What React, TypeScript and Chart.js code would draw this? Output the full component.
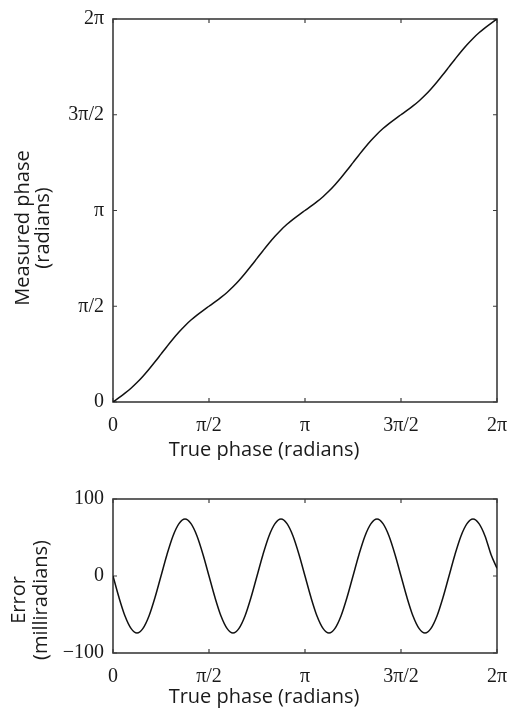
import React, { useEffect, useRef } from "react";
import { Chart, registerables } from "chart.js";

Chart.register(...registerables);

// True phase samples (radians), every π/32
const truePhase = [
  0, 0.0982, 0.1963, 0.2945, 0.3927, 0.4909, 0.589, 0.6872,
  0.7854, 0.8836, 0.9817, 1.0799, 1.1781, 1.2763, 1.3744, 1.4726,
  1.5708, 1.669, 1.7671, 1.8653, 1.9635, 2.0617, 2.1598, 2.258,
  2.3562, 2.4544, 2.5525, 2.6507, 2.7489, 2.8471, 2.9452, 3.0434,
  3.1416, 3.2398, 3.3379, 3.4361, 3.5343, 3.6325, 3.7306, 3.8288,
  3.927, 4.0252, 4.1233, 4.2215, 4.3197, 4.4179, 4.516, 4.6142,
  4.7124, 4.8106, 4.9087, 5.0069, 5.1051, 5.2033, 5.3014, 5.3996,
  5.4978, 5.596, 5.6941, 5.7923, 5.8905, 5.9887, 6.0868, 6.185,
  6.2832,
];

// Measured phase (radians)
const measuredPhase = [
  0, 0.0702, 0.1443, 0.2265, 0.3187, 0.4229, 0.537, 0.6592,
  0.7854, 0.9116, 1.0337, 1.1479, 1.2521, 1.3443, 1.4264, 1.5006,
  1.5708, 1.641, 1.7151, 1.7973, 1.8895, 1.9937, 2.1078, 2.23,
  2.3562, 2.4824, 2.6045, 2.7187, 2.8229, 2.9151, 2.9972, 3.0714,
  3.1416, 3.2118, 3.2859, 3.3681, 3.4603, 3.5645, 3.6786, 3.8008,
  3.927, 4.0532, 4.1753, 4.2895, 4.3937, 4.4859, 4.568, 4.6422,
  4.7124, 4.7826, 4.8567, 4.9389, 5.0311, 5.1353, 5.2494, 5.3716,
  5.4978, 5.624, 5.7461, 5.8603, 5.9645, 6.0567, 6.1388, 6.213,
  6.2832,
];

// Error (milliradians)
const errorMrad = [
  0, -28, -52, -68, -74, -68, -52, -28, 0, 28, 52, 68, 74, 68, 52, 28,
  0, -28, -52, -68, -74, -68, -52, -28, 0, 28, 52, 68, 74, 68, 52, 28,
  0, -28, -52, -68, -74, -68, -52, -28, 0, 28, 52, 68, 74, 68, 52, 28,
  0, -28, -52, -68, -74, -68, -52, -28, 0, 28, 52, 68, 74, 68, 52, 28,
  10,
];

const phaseTickValues = [0, Math.PI / 2, Math.PI, (3 * Math.PI) / 2, 2 * Math.PI];
const phaseTickLabels = ["0", "π/2", "π", "3π/2", "2π"];
const errorTickValues = [-100, 0, 100];
const errorTickLabels = ["−100", "0", "100"];

const xTitle = "True phase (radians)";
const topYTitle = ["Measured phase", "(radians)"];
const bottomYTitle = ["Error", "(milliradians)"];

const TICK_FONT = { family: "'Liberation Serif', 'DejaVu Serif', serif", size: 20 };
const TITLE_FONT = "20px 'Open Sans', 'Noto Sans', sans-serif";
const FRAME_COLOR = "#3c3c3c";
const TEXT_COLOR = "#1a1a1a";

const framePlugin = {
  id: "frameAndTitles",
  beforeDatasetsDraw(chart: any, _args: any, opts: any) {
    const { ctx, chartArea: a, scales } = chart;
    ctx.save();
    ctx.strokeStyle = FRAME_COLOR;
    ctx.lineWidth = 1.6;
    ctx.strokeRect(a.left, a.top, a.right - a.left, a.bottom - a.top);
    const L = 4;
    ctx.lineWidth = 1.2;
    ctx.beginPath();
    for (const v of opts.xTicks) {
      const px = scales.x.getPixelForValue(v);
      ctx.moveTo(px, a.bottom);
      ctx.lineTo(px, a.bottom - L);
      ctx.moveTo(px, a.top);
      ctx.lineTo(px, a.top + L);
    }
    for (const v of opts.yTicks) {
      const py = scales.y.getPixelForValue(v);
      ctx.moveTo(a.left, py);
      ctx.lineTo(a.left + L, py);
      ctx.moveTo(a.right, py);
      ctx.lineTo(a.right - L, py);
    }
    ctx.stroke();
    ctx.restore();
  },
  afterDraw(chart: any, _args: any, opts: any) {
    const { ctx } = chart;
    ctx.save();
    ctx.fillStyle = TEXT_COLOR;
    ctx.font = TITLE_FONT;
    ctx.textAlign = "center";
    ctx.textBaseline = "alphabetic";
    ctx.fillText(opts.xTitle, opts.xTitlePos[0], opts.xTitlePos[1]);
    opts.yTitle.forEach((line: string, i: number) => {
      ctx.save();
      ctx.translate(opts.yTitleX[i], opts.yTitleCenter);
      ctx.rotate(-Math.PI / 2);
      ctx.fillText(line, 0, 0);
      ctx.restore();
    });
    ctx.restore();
  },
};

function makeConfig(
  xs: number[],
  ys: number[],
  yMin: number,
  yMax: number,
  yTickValues: number[],
  yTickLabels: string[],
  padTop: number,
  pluginOpts: any
): any {
  return {
    type: "line",
    data: {
      datasets: [
        {
          data: xs.map((x, i) => ({ x, y: ys[i] })),
          borderColor: "#111111",
          borderWidth: 1.5,
          pointRadius: 0,
          cubicInterpolationMode: "monotone",
          fill: false,
        },
      ],
    },
    options: {
      animation: false,
      responsive: false,
      maintainAspectRatio: false,
      layout: { padding: { top: padTop, right: 14, left: 0, bottom: 0 } },
      plugins: {
        legend: { display: false },
        tooltip: { enabled: false },
        frameAndTitles: pluginOpts,
      },
      scales: {
        x: {
          type: "linear",
          min: 0,
          max: 2 * Math.PI,
          grid: { display: false, drawTicks: false },
          border: { display: false },
          afterBuildTicks: (s: any) => {
            s.ticks = phaseTickValues.map((value) => ({ value }));
          },
          afterFit: (s: any) => {
            s.height = 58;
            s.paddingLeft = 0;
            s.paddingRight = 0;
          },
          ticks: {
            autoSkip: false,
            maxRotation: 0,
            padding: 12,
            color: TEXT_COLOR,
            font: TICK_FONT,
            callback: (_v: any, i: number) => phaseTickLabels[i],
          },
        },
        y: {
          type: "linear",
          min: yMin,
          max: yMax,
          grid: { display: false, drawTicks: false },
          border: { display: false },
          afterBuildTicks: (s: any) => {
            s.ticks = yTickValues.map((value) => ({ value }));
          },
          afterFit: (s: any) => {
            s.width = 113;
            s.paddingTop = 0;
            s.paddingBottom = 0;
          },
          ticks: {
            autoSkip: false,
            padding: 9,
            color: TEXT_COLOR,
            font: TICK_FONT,
            callback: (_v: any, i: number) => yTickLabels[i],
          },
        },
      },
    },
    plugins: [framePlugin],
  };
}

export default function App() {
  const topRef = useRef<HTMLCanvasElement | null>(null);
  const bottomRef = useRef<HTMLCanvasElement | null>(null);

  useEffect(() => {
    const top = new Chart(
      topRef.current as HTMLCanvasElement,
      makeConfig(truePhase, measuredPhase, 0, 2 * Math.PI, phaseTickValues, phaseTickLabels, 19, {
        xTicks: phaseTickValues,
        yTicks: phaseTickValues,
        xTitle,
        xTitlePos: [264, 456],
        yTitle: topYTitle,
        yTitleX: [29, 49],
        yTitleCenter: 228,
      })
    );
    const bottom = new Chart(
      bottomRef.current as HTMLCanvasElement,
      makeConfig(truePhase, errorMrad, -100, 100, errorTickValues, errorTickLabels, 39, {
        xTicks: phaseTickValues,
        yTicks: errorTickValues,
        xTitle,
        xTitlePos: [264, 243],
        yTitle: bottomYTitle,
        yTitleX: [25, 47],
        yTitleCenter: 140,
      })
    );
    return () => {
      top.destroy();
      bottom.destroy();
    };
  }, []);

  return (
    <div style={{ position: "absolute", left: 0, top: 0, width: 511, height: 711, background: "#fff" }}>
      <canvas ref={topRef} width={511} height={460} style={{ position: "absolute", left: 0, top: 0, width: 511, height: 460 }} />
      <canvas ref={bottomRef} width={511} height={251} style={{ position: "absolute", left: 0, top: 460, width: 511, height: 251 }} />
    </div>
  );
}
